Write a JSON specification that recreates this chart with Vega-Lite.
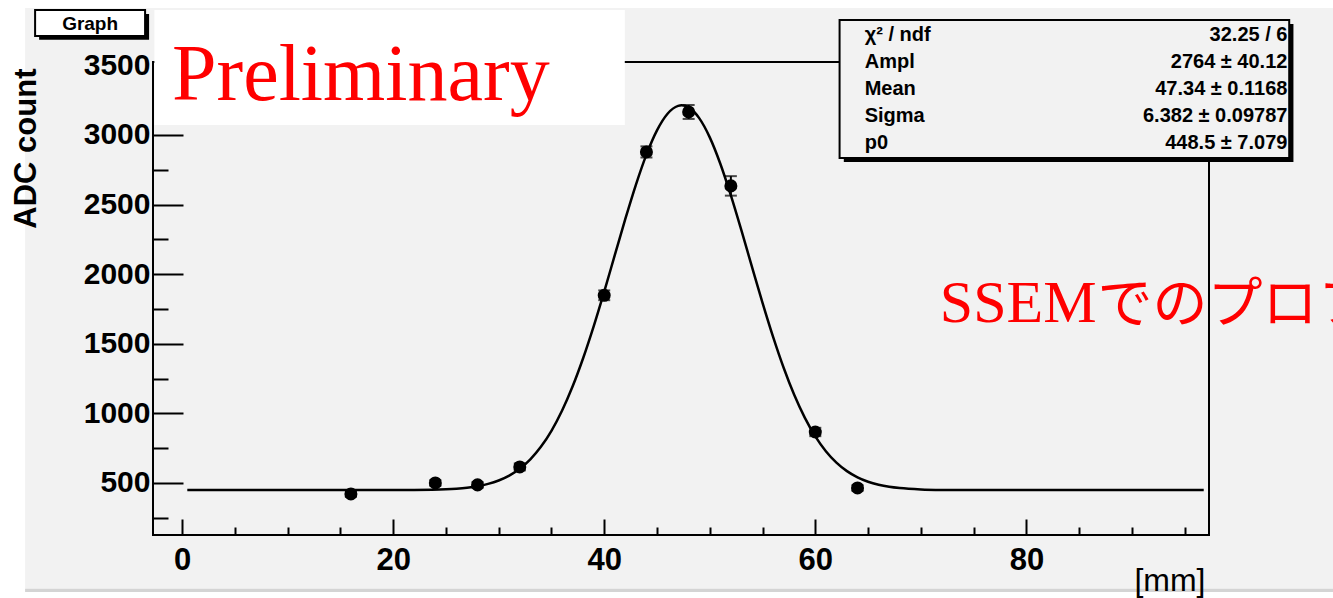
{
  "$schema": "https://vega.github.io/schema/vega-lite/v6.json",
  "width": 1056,
  "height": 473,
  "autosize": {"type": "none"},
  "padding": {"left": 153, "top": 62, "right": 124, "bottom": 63},
  "background": "#ffffff",
  "config": {
    "view": {"stroke": null, "fill": "#f2f2f2"},
    "axis": {"domain": false, "grid": false, "tickColor": "#000000", "tickWidth": 2, "labelColor": "#000000", "titleColor": "#000000", "labelFont": "Liberation Sans", "titleFont": "Liberation Sans"}
  },
  "datasets": {
    "fit": [
      {"x": 0.5, "y": 448.5}, {"x": 20, "y": 448.8}, {"x": 22, "y": 449.5}, {"x": 25, "y": 454.5},
      {"x": 26, "y": 458.8}, {"x": 27, "y": 465.7}, {"x": 28, "y": 476.5}, {"x": 29, "y": 493.0},
      {"x": 30, "y": 517.5}, {"x": 31, "y": 552.8}, {"x": 32, "y": 602.3}, {"x": 33, "y": 669.9},
      {"x": 34, "y": 759.5}, {"x": 35, "y": 874.8}, {"x": 36, "y": 1018.7}, {"x": 37, "y": 1192.4},
      {"x": 38, "y": 1395.8}, {"x": 39, "y": 1625.3}, {"x": 40, "y": 1875.1}, {"x": 41, "y": 2136.0},
      {"x": 42, "y": 2396.3}, {"x": 43, "y": 2641.9}, {"x": 44, "y": 2858.8}, {"x": 45, "y": 3032.8},
      {"x": 46, "y": 3152.2}, {"x": 47, "y": 3208.6}, {"x": 47.34, "y": 3212.5}, {"x": 48, "y": 3197.8},
      {"x": 49, "y": 3120.6}, {"x": 50, "y": 2982.6}, {"x": 51, "y": 2793.4}, {"x": 52, "y": 2565.7},
      {"x": 53, "y": 2313.8}, {"x": 54, "y": 2052.0}, {"x": 55, "y": 1793.5}, {"x": 56, "y": 1549.3},
      {"x": 57, "y": 1327.6}, {"x": 58, "y": 1133.5}, {"x": 59, "y": 969.3}, {"x": 60, "y": 834.9},
      {"x": 61, "y": 728.2}, {"x": 62, "y": 646.0}, {"x": 63, "y": 584.7}, {"x": 64, "y": 540.1},
      {"x": 65, "y": 508.6}, {"x": 66, "y": 487.0}, {"x": 67, "y": 472.5}, {"x": 68, "y": 463.2},
      {"x": 70, "y": 453.6}, {"x": 72, "y": 450.1}, {"x": 75, "y": 448.7}, {"x": 96.8, "y": 448.5}
    ],
    "points": [
      {"x": 16, "adc": 421, "err": 20},
      {"x": 24, "adc": 500, "err": 20},
      {"x": 28, "adc": 486, "err": 20},
      {"x": 32, "adc": 615, "err": 25},
      {"x": 40, "adc": 1848, "err": 35},
      {"x": 44, "adc": 2878, "err": 40},
      {"x": 48, "adc": 3165, "err": 50},
      {"x": 52, "adc": 2634, "err": 70},
      {"x": 60, "adc": 866, "err": 30},
      {"x": 64, "adc": 464, "err": 20}
    ],
    "one": [{}]
  },
  "resolve": {"axis": {"x": "independent", "y": "independent"}},
  "layer": [
    {
      "data": {"name": "one"},
      "mark": {"type": "rect", "fill": "#f2f2f2"},
      "encoding": {
        "x": {"datum": -14.87, "type": "quantitative", "axis": null}, "x2": {"datum": 110},
        "y": {"datum": 3912, "type": "quantitative", "axis": null}, "y2": {"datum": -261}
      }
    },
    {
      "data": {"name": "one"},
      "mark": {"type": "rect", "fill": "#d4d4d4"},
      "encoding": {
        "x": {"datum": -14.87, "type": "quantitative", "axis": null}, "x2": {"datum": 110},
        "y": {"datum": -261, "type": "quantitative", "axis": null}, "y2": {"datum": -283}
      }
    },
    {
      "data": {"name": "one"},
      "mark": {"type": "rect", "fillOpacity": 0, "stroke": "#000000", "strokeWidth": 2},
      "encoding": {
        "x": {"datum": -2.75, "type": "quantitative", "axis": null}, "x2": {"datum": 97.3},
        "y": {"datum": 126, "type": "quantitative", "axis": null}, "y2": {"datum": 3524}
      }
    },
    {
      "data": {"name": "fit"},
      "mark": {"type": "line", "color": "#000000", "strokeWidth": 2.5, "interpolate": "monotone"},
      "encoding": {
        "x": {"field": "x", "type": "quantitative", "scale": {"domain": [-2.75, 97.3], "nice": false, "zero": false},
          "axis": {"orient": "bottom", "zindex": 1, "values": [0, 20, 40, 60, 80], "format": "d", "tickSize": -16, "labelFontSize": 31, "labelFontWeight": "bold", "labelPadding": 26,
            "title": "[mm]", "titleFontSize": 32, "titleFontWeight": "normal", "titleX": 1052, "titleY": 55, "titleAlign": "right", "titleBaseline": "alphabetic"}},
        "y": {"field": "y", "type": "quantitative", "scale": {"domain": [126, 3524], "nice": false, "zero": false},
          "axis": {"orient": "left", "zindex": 1, "values": [500, 1000, 1500, 2000, 2500, 3000, 3500], "format": "d", "tickSize": -30, "labelFontSize": 30, "labelFontWeight": "bold", "labelPadding": 33,
            "tickOpacity": {"condition": {"test": "datum.value >= 3250", "value": 0}, "value": 1},
            "title": "ADC count", "titleFontSize": 31, "titleFontWeight": "bold", "titleAngle": -90, "titleX": -118, "titleY": 6, "titleAlign": "right", "titleBaseline": "alphabetic"}}
      }
    },
    {
      "data": {"name": "points"},
      "mark": {"type": "errorbar", "ticks": {"size": 12, "thickness": 2, "color": "#000000"}, "rule": {"strokeWidth": 2, "color": "#000000"}},
      "encoding": {
        "x": {"field": "x", "type": "quantitative", "axis": null},
        "y": {"field": "adc", "type": "quantitative", "axis": null},
        "yError": {"field": "err"}
      }
    },
    {
      "data": {"name": "points"},
      "mark": {"type": "point", "filled": true, "color": "#000000", "opacity": 1, "size": 170, "shape": "circle"},
      "encoding": {
        "x": {"field": "x", "type": "quantitative",
          "axis": {"orient": "bottom", "zindex": 1, "values": [5, 10, 15, 25, 30, 35, 45, 50, 55, 65, 70, 75, 85, 90, 95], "tickSize": -8, "labels": false, "title": null}},
        "y": {"field": "adc", "type": "quantitative",
          "axis": {"orient": "left", "zindex": 1, "values": [250, 750, 1250, 1750, 2250, 2750, 3250], "tickSize": -15, "labels": false, "title": null,
            "tickOpacity": {"condition": {"test": "datum.value >= 3250", "value": 0}, "value": 1}}}
      }
    },
    {
      "data": {"name": "one"},
      "mark": {"type": "rect", "fill": "#ffffff"},
      "encoding": {
        "x": {"datum": -2.62, "type": "quantitative", "axis": null}, "x2": {"datum": 41.95},
        "y": {"datum": 3898, "type": "quantitative", "axis": null}, "y2": {"datum": 3072}
      }
    },
    {
      "data": {"name": "one"},
      "mark": {"type": "text", "text": "Preliminary", "font": "Liberation Serif", "fontSize": 80, "color": "#ff0000", "align": "left", "baseline": "alphabetic"},
      "encoding": {
        "x": {"datum": -0.95, "type": "quantitative", "axis": null},
        "y": {"datum": 3251, "type": "quantitative", "axis": null}
      }
    },
    {
      "data": {"name": "one"},
      "mark": {"type": "text", "text": "SSEM", "font": "Liberation Serif", "fontSize": 60, "color": "#ff0000", "align": "left", "baseline": "alphabetic"},
      "encoding": {
        "x": {"datum": 71.8, "type": "quantitative", "axis": null},
        "y": {"datum": 1657, "type": "quantitative", "axis": null}
      }
    },
    {
      "data": {"name": "one"},
      "mark": {"type": "text", "text": "でのプロファイル", "font": "Noto Sans CJK JP", "fontSize": 55, "color": "#ff0000", "align": "left", "baseline": "alphabetic"},
      "encoding": {
        "x": {"datum": 86.74, "type": "quantitative", "axis": null},
        "y": {"datum": 1657, "type": "quantitative", "axis": null}
      }
    },
    {
      "data": {"name": "one"},
      "mark": {"type": "rect", "fill": "#000000"},
      "encoding": {
        "x": {"datum": 62.7, "type": "quantitative", "axis": null}, "x2": {"datum": 105.3},
        "y": {"datum": 3797, "type": "quantitative", "axis": null}, "y2": {"datum": 2806}
      }
    },
    {
      "data": {"name": "one"},
      "mark": {"type": "rect", "fill": "#f2f2f2", "stroke": "#000000", "strokeWidth": 2},
      "encoding": {
        "x": {"datum": 62.3, "type": "quantitative", "axis": null}, "x2": {"datum": 104.9},
        "y": {"datum": 3826, "type": "quantitative", "axis": null}, "y2": {"datum": 2835}
      }
    },
    {
      "data": {"name": "one"},
      "mark": {"type": "text", "text": ["χ² / ndf", "Ampl", "Mean", "Sigma", "p0"], "lineHeight": 27, "font": "Liberation Sans", "fontWeight": "bold", "fontSize": 20, "color": "#000000", "align": "left", "baseline": "alphabetic"},
      "encoding": {
        "x": {"datum": 64.68, "type": "quantitative", "axis": null},
        "y": {"datum": 3675, "type": "quantitative", "axis": null}
      }
    },
    {
      "data": {"name": "one"},
      "mark": {"type": "text", "text": ["32.25 / 6", "2764 ± 40.12", "47.34 ± 0.1168", "6.382 ± 0.09787", "448.5 ± 7.079"], "lineHeight": 27, "font": "Liberation Sans", "fontWeight": "bold", "fontSize": 20, "color": "#000000", "align": "right", "baseline": "alphabetic"},
      "encoding": {
        "x": {"datum": 104.73, "type": "quantitative", "axis": null},
        "y": {"datum": 3675, "type": "quantitative", "axis": null}
      }
    },
    {
      "data": {"name": "one"},
      "mark": {"type": "rect", "fill": "#000000"},
      "encoding": {
        "x": {"datum": -13.54, "type": "quantitative", "axis": null}, "x2": {"datum": -3.12},
        "y": {"datum": 3869, "type": "quantitative", "axis": null}, "y2": {"datum": 3683}
      }
    },
    {
      "data": {"name": "one"},
      "mark": {"type": "rect", "fill": "#ffffff", "stroke": "#000000", "strokeWidth": 2},
      "encoding": {
        "x": {"datum": -13.92, "type": "quantitative", "axis": null}, "x2": {"datum": -3.5},
        "y": {"datum": 3898, "type": "quantitative", "axis": null}, "y2": {"datum": 3711}
      }
    },
    {
      "data": {"name": "one"},
      "mark": {"type": "text", "text": "Graph", "font": "Liberation Sans", "fontWeight": "bold", "fontSize": 19, "color": "#000000", "align": "center", "baseline": "middle"},
      "encoding": {
        "x": {"datum": -8.71, "type": "quantitative", "axis": null},
        "y": {"datum": 3797, "type": "quantitative", "axis": null}
      }
    }
  ]
}
